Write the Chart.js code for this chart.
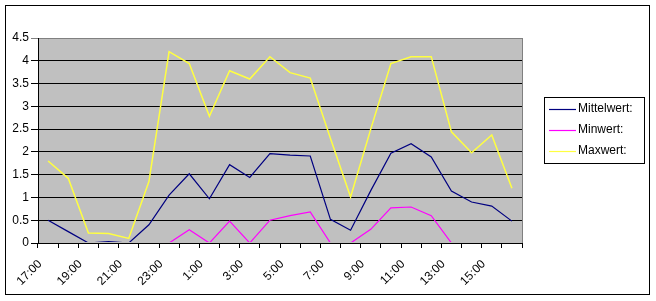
<!DOCTYPE html>
<html>
<head>
<meta charset="utf-8">
<script src="https://cdn.jsdelivr.net/npm/chart.js@4"></script>
<style>
  html, body { margin: 0; padding: 0; background: #fff; }
  #wrap { width: 656px; height: 301px; }
</style>
</head>
<body>
<div id="wrap"><canvas id="chart" width="656" height="301"></canvas></div>
<script>
// Stunden (Kategorien)
const stunden = ['17:00', '18:00', '19:00', '20:00', '21:00', '22:00', '23:00', '0:00',
  '1:00', '2:00', '3:00', '4:00', '5:00', '6:00', '7:00', '8:00',
  '9:00', '10:00', '11:00', '12:00', '13:00', '14:00', '15:00', '16:00'];

// Werte
const mittelwert = [0.5, 0.25, 0, 0.03, 0, 0.4, 1.05, 1.52, 0.97, 1.72, 1.44, 1.96,
  1.93, 1.91, 0.52, 0.28, 1.15, 1.97, 2.18, 1.89, 1.14, 0.9, 0.81, 0.48];
const minwert = [0, 0, 0, 0, 0, 0, 0, 0.29, 0, 0.48, 0, 0.5,
  0.6, 0.68, 0, 0, 0.3, 0.77, 0.79, 0.6, 0, 0, 0, 0];
const maxwert = [1.8, 1.42, 0.22, 0.21, 0.1, 1.35, 4.2, 3.94, 2.78, 3.78, 3.6, 4.09,
  3.74, 3.62, 2.3, 1.01, 2.5, 3.94, 4.09, 4.09, 2.44, 1.98, 2.37, 1.2];

const yTicks = [0, 0.5, 1, 1.5, 2, 2.5, 3, 3.5, 4, 4.5];

const font = { family: 'Arial, "Liberation Sans", sans-serif', size: 12 };

// Hintergrund, Rahmen und Legende im Excel-Stil
const excelLook = {
  id: 'excelLook',
  beforeDraw(chart) {
    const { ctx, chartArea: a } = chart;
    ctx.save();
    ctx.fillStyle = '#fff';
    ctx.fillRect(0, 0, chart.width, chart.height);
    ctx.strokeStyle = '#000';
    ctx.lineWidth = 1;
    ctx.strokeRect(5.5, 5.5, 644, 289);
    ctx.fillStyle = '#c0c0c0';
    ctx.fillRect(a.left, a.top, a.right - a.left, a.bottom - a.top);
    ctx.strokeStyle = '#808080';
    ctx.strokeRect(a.left + 0.5, a.top + 0.5, a.right - a.left, a.bottom - a.top);
    ctx.restore();
  },
  afterDatasetsDraw(chart) {
    const { ctx, chartArea: a } = chart;
    ctx.save();
    // x-Achse über die Linien zeichnen
    ctx.strokeStyle = '#000';
    ctx.lineWidth = 1;
    ctx.beginPath();
    ctx.moveTo(a.left, Math.round(a.bottom) + 0.5);
    ctx.lineTo(a.right, Math.round(a.bottom) + 0.5);
    ctx.stroke();

    // Legende
    ctx.strokeRect(544.5, 97.5, 100, 66);
    ctx.font = '12px Arial, "Liberation Sans", sans-serif';
    ctx.textBaseline = 'middle';
    ctx.fillStyle = '#000';
    chart.data.datasets.forEach((ds, i) => {
      const y = 109 + i * 21;
      ctx.strokeStyle = ds.borderColor;
      ctx.lineWidth = 1.2;
      ctx.beginPath();
      ctx.moveTo(549, y + 0.5);
      ctx.lineTo(576, y + 0.5);
      ctx.stroke();
      ctx.fillText(ds.label, 578, y);
    });
    ctx.restore();
  }
};

const clip = { left: 2, top: 2, right: 2, bottom: -1 };

new Chart(document.getElementById('chart'), {
  type: 'line',
  data: {
    labels: stunden,
    datasets: [
      { label: 'Mittelwert:', data: mittelwert, borderColor: '#000080', borderWidth: 1.2, clip: clip },
      { label: 'Minwert:', data: minwert, borderColor: '#ff00ff', borderWidth: 1.2, clip: clip },
      { label: 'Maxwert:', data: maxwert, borderColor: '#ffff40', borderWidth: 1.5, clip: clip }
    ]
  },
  options: {
    responsive: false,
    animation: false,
    elements: { point: { radius: 0 }, line: { tension: 0 } },
    layout: { padding: { left: 5, top: 38, right: 134, bottom: 7 } },
    plugins: { legend: { display: false }, tooltip: { enabled: false } },
    scales: {
      x: {
        offset: true,
        afterFit(scale) { scale.height = 51; },
        grid: { offset: true, drawOnChartArea: false, color: '#000', tickLength: 5 },
        border: { color: '#000' },
        ticks: {
          autoSkip: false,
          maxRotation: 45,
          minRotation: 45,
          labelOffset: -8,
          padding: 9,
          color: '#000',
          font: font,
          callback(v, i) { return i % 2 === 0 ? stunden[i] : ''; }
        }
      },
      y: {
        min: 0,
        max: 4.5,
        afterFit(scale) { scale.width = 33; },
        afterBuildTicks(scale) { scale.ticks = yTicks.map(v => ({ value: v })); },
        grid: {
          color: ctx => (ctx.tick && ctx.tick.value === 4.5 ? '#808080' : '#000'),
          tickLength: 7
        },
        border: { color: '#000' },
        ticks: { color: '#000', font: font, padding: 2, callback: v => String(v) }
      }
    }
  },
  plugins: [excelLook]
});
</script>
</body>
</html>
